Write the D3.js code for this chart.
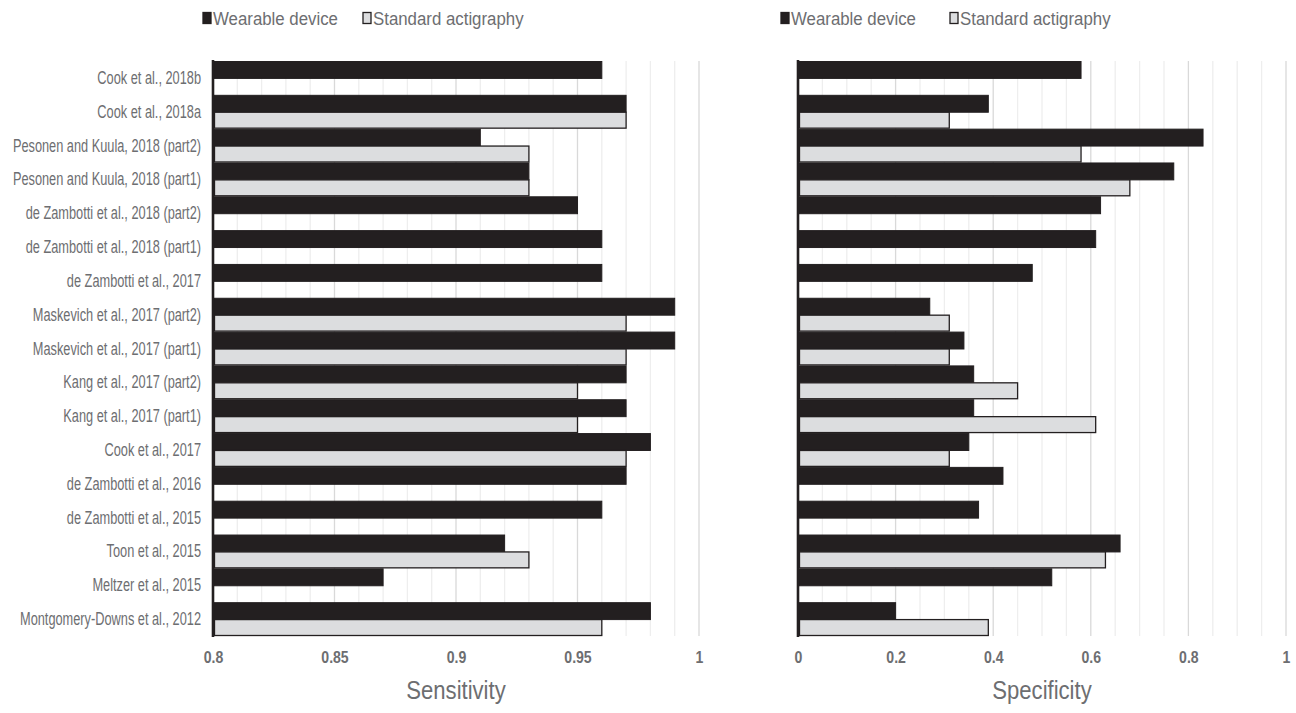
<!DOCTYPE html>
<html><head><meta charset="utf-8">
<script src="https://cdn.jsdelivr.net/npm/d3@7"></script>
<style>
body{margin:0;background:#fff}
svg{display:block}
text{font-family:"Liberation Sans",Arial,sans-serif}
</style>
</head><body>
<svg id="c" width="1296" height="713"></svg>
<script>
const categories = [
  "Cook et al., 2018b","Cook et al., 2018a","Pesonen and Kuula, 2018 (part2)","Pesonen and Kuula, 2018 (part1)",
  "de Zambotti et al., 2018 (part2)","de Zambotti et al., 2018 (part1)","de Zambotti et al., 2017",
  "Maskevich et al., 2017 (part2)","Maskevich et al., 2017 (part1)","Kang et al., 2017 (part2)","Kang et al., 2017 (part1)",
  "Cook et al., 2017","de Zambotti et al., 2016","de Zambotti et al., 2015","Toon et al., 2015","Meltzer et al., 2015",
  "Montgomery-Downs et al., 2012"
];
const seriesNames = ["Wearable device","Standard actigraphy"];
const sensitivityWearable   = [0.96,0.97,0.91,0.93,0.95,0.96,0.96,0.99,0.99,0.97,0.97,0.98,0.97,0.96,0.92,0.87,0.98];
const sensitivityActigraphy = [null,0.97,0.93,0.93,null,null,null,0.97,0.97,0.95,0.95,0.97,null,null,0.93,null,0.96];
const specificityWearable   = [0.58,0.39,0.83,0.77,0.62,0.61,0.48,0.27,0.34,0.36,0.36,0.35,0.42,0.37,0.66,0.52,0.20];
const specificityActigraphy = [null,0.31,0.58,0.68,null,null,null,0.31,0.31,0.45,0.61,0.31,null,null,0.63,null,0.39];
const sensTicks = [0.8,0.85,0.9,0.95,1];
const specTicks = [0,0.2,0.4,0.6,0.8,1];

const svg = d3.select("#c");
const TEXT = "#6d6e71";
const DARK = "#231f20";
const LIGHT = "#dcdddf";
const y = d3.scaleBand().domain(categories).range([61, 636]).padding(0);
const bh = y.bandwidth() / 2;

function narrowText(parent, x, yy, str, size, sx, anchor, weight) {
  const g = parent.append("g").attr("transform", `translate(${x},${yy})`);
  g.append("text").attr("transform", `scale(${sx},1)`)
    .attr("text-anchor", anchor).attr("font-size", size).attr("fill", TEXT)
    .attr("font-weight", weight || "normal").text(str);
  return g;
}

function panel(opts) {
  const x = d3.scaleLinear().domain(opts.domain).range(opts.range);
  const g = svg.append("g");
  const nMinor = Math.round((opts.domain[1] - opts.domain[0]) / opts.minor);
  const minor = d3.range(1, nMinor + 1).map(i => opts.domain[0] + i * opts.minor);
  g.selectAll("line.grid").data(minor).join("line")
    .attr("x1", d => x(d)).attr("x2", d => x(d))
    .attr("y1", y.range()[0]).attr("y2", y.range()[1])
    .attr("stroke", (d, i) => ((i + 1) % opts.majorEvery === 0) ? "#d9d9d9" : "#eeeeee")
    .attr("stroke-width", 1.3);

  g.selectAll("rect.w").data(categories).join("rect")
    .attr("x", x(opts.domain[0]) + 1)
    .attr("y", d => y(d) + 0.5)
    .attr("width", (d, i) => x(opts.wear[i]) - x(opts.domain[0]) - 1)
    .attr("height", bh)
    .attr("fill", DARK).attr("stroke", DARK).attr("stroke-width", 1);

  const actData = categories.map((c, i) => ({c, v: opts.act[i]})).filter(d => d.v != null);
  g.selectAll("rect.a").data(actData).join("rect")
    .attr("x", x(opts.domain[0]) + 1.5)
    .attr("y", d => y(d.c) + bh + 0.5)
    .attr("width", d => x(d.v) - x(opts.domain[0]) - 1.5)
    .attr("height", bh - 1)
    .attr("fill", LIGHT).attr("stroke", DARK).attr("stroke-width", 1.3);

  g.append("line")
    .attr("x1", x(opts.domain[0])).attr("x2", x(opts.domain[0]))
    .attr("y1", y.range()[0] - 1).attr("y2", y.range()[1] + 1)
    .attr("stroke", DARK).attr("stroke-width", 2.6);

  const ax = g.append("g").attr("transform", `translate(0,${y.range()[1] + 13})`)
    .call(d3.axisBottom(x).tickValues(opts.ticks).tickSize(0).tickFormat(d => String(d)));
  ax.select(".domain").remove();
  ax.selectAll("text").attr("fill", TEXT).attr("font-size", 16).attr("font-weight", "bold")
    .attr("transform", "scale(0.88,1)")
    .style("font-family", '"Liberation Sans",Arial,sans-serif');

  narrowText(g, (opts.range[0] + opts.range[1]) / 2, 699, opts.title, 26, 0.85, "middle");

  // legend
  seriesNames.forEach((s, i) => {
    const lx = opts.legendX[i];
    g.append("rect").attr("x", lx).attr("y", 12.5).attr("width", 8).attr("height", 11)
      .attr("fill", i === 0 ? DARK : LIGHT).attr("stroke", DARK).attr("stroke-width", 1.3);
    narrowText(g, lx + 10, 24.5, s, 18.5, 0.91, "start");
  });

  if (opts.labels) {
    categories.forEach(c => {
      narrowText(g, 201, y(c) + y.bandwidth() / 2 + 6, c, 17.5, 0.73, "end");
    });
  }
}

panel({domain: [0.8, 1], range: [213, 699], minor: 0.01, majorEvery: 5, ticks: sensTicks,
  wear: sensitivityWearable, act: sensitivityActigraphy, title: "Sensitivity", legendX: [203, 363], labels: true});
panel({domain: [0, 1], range: [798, 1286], minor: 0.05, majorEvery: 4, ticks: specTicks,
  wear: specificityWearable, act: specificityActigraphy, title: "Specificity", legendX: [781, 950], labels: false});
</script>
</body></html>
